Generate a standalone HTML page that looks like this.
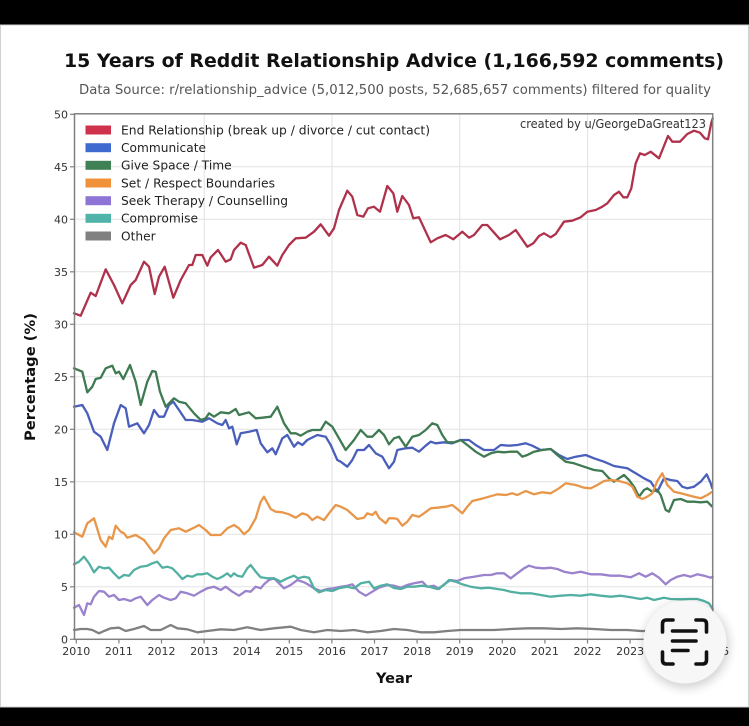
<!DOCTYPE html>
<html>
<head>
<meta charset="utf-8">
<style>
  html, body { margin:0; padding:0; background:#000; }
  body { width:749px; height:726px; overflow:hidden; }
  svg { display:block; }
  text { font-family: "DejaVu Sans", "Liberation Sans", sans-serif; }
</style>
</head>
<body>
<svg width="749" height="726" viewBox="0 0 749 726" xmlns="http://www.w3.org/2000/svg">
  <defs>
    <filter id="sh" x="-50%" y="-50%" width="200%" height="200%">
      <feGaussianBlur stdDeviation="5"/>
    </filter>
  </defs>
  <!-- background -->
  <rect x="0" y="0" width="749" height="726" fill="#000"/>
  <rect x="0.5" y="25" width="748" height="682" fill="#fff" stroke="#d0d0d0" stroke-width="1"/>

  <!-- Title -->
  <text x="64" y="67" font-size="19" font-weight="bold" fill="#111" textLength="660" lengthAdjust="spacingAndGlyphs">15 Years of Reddit Relationship Advice (1,166,592 comments)</text>
  <text x="79" y="94" font-size="13" fill="#555" textLength="632" lengthAdjust="spacingAndGlyphs">Data Source: r/relationship_advice (5,012,500 posts, 52,685,657 comments) filtered for quality</text>

  <!-- gridlines -->
  <g stroke="#e2e2e2" stroke-width="1">
    <line x1="74.5" x2="712.7" y1="166.8" y2="166.8"/>
    <line x1="74.5" x2="712.7" y1="219.3" y2="219.3"/>
    <line x1="74.5" x2="712.7" y1="271.8" y2="271.8"/>
    <line x1="74.5" x2="712.7" y1="324.3" y2="324.3"/>
    <line x1="74.5" x2="712.7" y1="376.8" y2="376.8"/>
    <line x1="74.5" x2="712.7" y1="429.3" y2="429.3"/>
    <line x1="74.5" x2="712.7" y1="481.8" y2="481.8"/>
    <line x1="74.5" x2="712.7" y1="534.3" y2="534.3"/>
    <line x1="74.5" x2="712.7" y1="586.8" y2="586.8"/>
    <line x1="204.2" x2="204.2" y1="114" y2="639.3"/>
    <line x1="332" x2="332" y1="114" y2="639.3"/>
    <line x1="459.8" x2="459.8" y1="114" y2="639.3"/>
    <line x1="587.6" x2="587.6" y1="114" y2="639.3"/>
  </g>

  <!-- series -->
  <g fill="none" stroke-width="2.3" stroke-linejoin="round" stroke-linecap="round">
    <polyline stroke="#b0314b" points="74,313.3 80.7,315.7 90.7,292.7 95.7,296 105.7,269.3 114,285 122.3,303.3 130.7,285 135.7,280 144,261.7 149,266.7 154.7,294 159,276.7 164.7,266.7 173.3,297.7 180.7,280 189,265 192.3,265 195.7,255 202.3,255 207.3,265.7 210.7,257.3 218,250 225.7,261.7 230.7,259.3 234,250 240.7,242.7 245.7,245 254,267.7 262.3,265 269,256.7 277.3,265.7 282.3,255 289,245 295.7,238.3 305.7,237.7 314,231.7 320.7,224.3 329,235.7 334,228.3 339,210 347.3,190.7 352.3,196.7 357.3,215 363.3,216.7 368,208.3 374,206.7 380,211.7 387.3,186 393.3,193.3 397.3,211.7 402.3,196 409,205 413.3,218.3 419,217.3 430.7,242.3 437.3,238.3 445.7,235 453.3,239.3 462.3,231.7 469,237.7 474,235 482.3,225 487.3,225 500,239.3 509,235 515.7,230 527.3,246.7 533.3,243.3 539,236 544,233.3 550.7,237.3 555.7,234 564,221.7 572.3,220.7 580.7,217.3 587.3,211.7 595.7,210 602.3,206.7 607.3,203.3 614,195 619,191.7 623.3,197.3 627.3,197.3 631.3,188.3 635.7,163.3 640,153.3 644.7,155 650.7,151.7 659,158.3 668,136 672.3,141.7 680,141.7 687.3,134 694,130.7 700,132.7 704.7,138.3 708,139.3 711.3,123 712.7,118.5"/>
    <polyline stroke="#4a5fbb" points="74,406.7 82.3,405 87.3,413.3 94,431.7 100.7,436.7 107.3,450 114,423.3 120.7,405 125.7,408.3 129,426.7 137.3,423.3 144,433.3 149,425 154,410 159,416.7 164,416.7 169,405 173.3,401.7 179,410 185.7,420 192.3,420 202.3,421.7 209,418.3 217.3,423.3 222.3,425 225.7,420 229,428.3 232.3,426.7 236.7,444.3 240.7,433.3 249,431.7 256.7,430 260.7,443.3 267.3,452.3 272.3,448.3 275.7,454.3 282.3,438.3 287.3,435 294,446.7 298,442.3 302.3,445 307.3,440 317.3,435 325.7,436.7 330.7,445 337.3,460 340.7,461.7 347.3,466.7 352.3,460 357.3,450 364,450 369,445 375.7,453.3 382.3,456.7 389,468.3 394,461.7 397.3,450 405.7,448.3 412.3,447.7 419,451.7 425.7,445.7 430.7,441.7 435.7,443.3 444,442.3 452.3,443.3 460.7,440 469,440 475.7,445 484,450 494,450 500.7,445 509,445.7 517.3,445 525.7,443.3 532.3,445.7 540.7,450 550.7,449 559,455 567.3,459 575.7,456.7 585.7,455 594,458.3 604,461.7 614,466 627.3,468.3 635.7,473.3 644,478.3 650.7,481.7 657.3,491.7 664,478.3 670.7,480 677.3,481 682.3,486.7 687.3,488.3 694,486.7 700.7,481.7 706.7,474.3 710.7,483.3 712.3,488.3"/>
    <polyline stroke="#3f7a52" points="74,368.3 82.3,371.7 87.3,392.3 92.3,386.7 95.7,379 100.7,377.7 105.7,368.3 112.3,365.7 115.7,373.3 119,371.7 123.3,379 130,365 135.7,381.7 140.7,405 147.3,381.7 152.3,371 155.7,371.7 160,391.7 165.7,406.7 174,398.3 179,401.7 185.7,403.3 194,413.3 200.7,420 205.7,418.3 209,413.3 214,416.7 220.7,412.3 229,413.3 235.7,409 239,415 249,412.3 255.7,418.3 262.3,417.7 270.7,416.7 277.3,406.7 284,423.3 290.7,433.3 295.7,433.3 300.7,435.7 307.3,431.7 312.3,430 320.7,430 325.7,421.7 332.3,426.7 339,438.3 345.7,450 354,440 360.7,430 367.3,436.7 372.3,436.7 379,430 384,435 389,444.3 394,438.3 399,436.7 405.7,446.7 412.3,436.7 419,435 425.7,430 432.3,423.3 437.3,425 442.3,435 447.3,442.3 454,442.3 460.7,440 467.3,445 475.7,451.7 484,456.7 490.7,453.3 497.3,451.7 504,452.3 510.7,451.7 517.3,451.7 522.3,456.7 527.3,455 534,451.7 542.3,450 550.7,449 557.3,455 565.7,461.7 574,463.3 584,466.7 594,470 602.3,471 609,478.3 614,481.7 619,478.3 624,475 629,480 634,486.7 639,496.7 644,490 647.3,488.3 652.3,491.7 657.3,490 660.7,495 665.7,510 669,511.7 674,500 680.7,499 687.3,501.7 694,501.7 700.7,502.3 707.3,501.7 712.3,506.7"/>
    <polyline stroke="#e8974a" points="74,532.3 82.3,536.7 87.3,523.3 94,518.3 100.7,540 105.7,546.7 109,536.7 112.3,539 115.7,525.7 120.7,531.7 124,533.3 127.3,537.7 135.7,535 144,540 149,546.7 154,553.3 159,548.3 164,538.3 170.7,530 179,528.3 185.7,531.7 194,527.7 199,525 205.7,530 210.7,535 220.7,535 227.3,528.3 234,525 239,528.3 244,534.3 249,530 255.7,518.3 260.7,501.7 264,496.7 270.7,509 275.7,511.7 282.3,512.3 289,514.3 295.7,517.7 302.3,513.3 307.3,515 312.3,520 317.3,516.7 324,520 329,513.3 335.7,505 340.7,506.7 347.3,510 357.3,519 364,517.7 367.3,513.3 372.3,515 375.7,511.7 379,517.7 385.7,523.3 389,518.3 394,518.3 397.3,519 402.3,525.7 407.3,521.7 412.3,515 419,516.7 424,513.3 430.7,508.3 437.3,507.7 445.7,506.7 452.3,505 457.3,509 462.3,513.3 467.3,506.7 472.3,501 480.7,499 489,496.7 497.3,494.3 505.7,495 512.3,493.3 517.3,495 525.7,491 534,494.3 542.3,492.3 550.7,493.3 559,488.3 565.7,483.3 575.7,485 584,487.7 590.7,488.3 597.3,485 604,481 610.7,480 619,481 627.3,483.3 632.3,486.7 637.3,496.7 642.3,499 647.3,496.7 652.3,493.3 657.3,481 662.3,473.3 667.3,485 674,491.7 680.7,493.3 687.3,495 694,496.7 700.7,498.3 707.3,495 712.3,491.7"/>
    <polyline stroke="#9a82cc" points="74,607.7 79,605 84,615 87.3,603.3 90.7,604.3 94,596.7 99,591 104,591.7 109,596.7 114,595 119,600 124,599 130.7,601 135.7,598.3 140.7,596.7 147.3,605 152.3,600 159,595 164,597.7 170.7,600 175.7,598.3 180.7,591.7 187.3,593.3 194,595.7 200.7,591.7 207.3,588.3 214,586.7 220.7,590 225.7,586.7 232.3,591.7 239,595.7 245.7,591 250.7,591.7 255.7,586.7 260.7,588.3 264,584.3 269,580 274,578.3 279,583.3 284,588.3 290.7,585 297.3,580 304,582.3 309,585 314,588.3 320.7,591 327.3,589 334,588.3 340.7,586.7 347.3,585.7 352.3,584.3 359,591.7 365.7,595.7 372.3,591.7 379,587.7 387.3,585 394,585.7 400.7,587.7 407.3,585 414,583.3 422.3,581.7 427.3,586.7 434,585.7 439,589 444,584.3 450.7,580 457.3,581 464,578.3 474,576.7 484,575 490.7,575 497.3,573.3 504,573.3 510.7,578.3 517.3,573.3 524,568.3 529,565.7 535.7,567.7 544,568.3 550.7,567.7 557.3,569 564,571.7 572.3,573.3 580.7,571.7 590.7,574.3 600.7,574.3 610.7,575.7 620.7,575.7 630.7,577.3 639,573.3 645.7,576.7 652.3,573.3 659,577.7 665.7,584.3 670.7,580 677.3,576.7 684,575 690.7,576.7 697.3,574.3 704,575.7 710.7,577.7 712.7,576.7"/>
    <polyline stroke="#52b0a2" points="74,564.3 79,561.7 84,556.7 89,563.3 94,572.3 99,566.7 104,568.3 109,567.7 114,573.3 119,578.3 124,575 129,575.7 134,570 140.7,566.7 147.3,565.7 152.3,563.3 157.3,561.7 162.3,567.7 167.3,566.7 172.3,568.3 177.3,573.3 182.3,579 187.3,575.7 192.3,576.7 197.3,574.3 202.3,574.3 207.3,573.3 212.3,576.7 217.3,579 222.3,576.7 227.3,573.3 230.7,576.7 234,573.3 237.3,575.7 242.3,576.7 247.3,568.3 250.7,565 255.7,571.7 260.7,577.3 267.3,578.3 274,578.3 280.7,581.7 287.3,578.3 294,575.7 298,578.3 304,576.7 309,577.7 314,588.3 319,592.3 325.7,590 332.3,591 339,588.3 347.3,586.7 354,588.3 360.7,583.3 369,581.7 374,588.3 380.7,585.7 387.3,584.3 394,588 400.7,589 407.3,586.7 414,586.7 422.3,585.7 429,586.7 437.3,589 444,585 449,580 455.7,581.7 462.3,584.3 470.7,586.7 480.7,588.3 489,587.7 497.3,589 504,590 510.7,591.7 520.7,593.3 530.7,593.3 540.7,595 550.7,596.7 560.7,595.7 570.7,595 580.7,595.7 590.7,594.3 600.7,595.7 610.7,596.7 620.7,595.7 630.7,597.3 640.7,599 647.3,597.7 654,600 664,597.7 670.7,599 680.7,599.3 690.7,599 697.3,599 704,601 709,603.3 712.7,609"/>
    <polyline stroke="#808080" points="74,630 80.7,629 87.3,629 92.3,630 99,633.3 104,631 110.7,628.3 119,627.7 125.7,631 134,629 144,626 150.7,630 160.7,630 170.7,625 177.3,628.3 187.3,629.3 197.3,632.3 207.3,631 220.7,629.3 234,630 247.3,627.3 260.7,630 274,628.3 290.7,626.7 300.7,630 314,632.3 327.3,630 340.7,631 354,630 367.3,632.3 380.7,631 394,629 407.3,630 420.7,632.3 434,632.3 447.3,631 460.7,630 477.3,630 494,630 510.7,629 527.3,628.3 544,628.3 560.7,629 577.3,628.3 594,629 610.7,630 627.3,630 640.7,631 660,631 690,632 712.7,631"/>
  </g>

  <!-- frame -->
  <rect x="74.5" y="113.8" width="638.2" height="525.5" fill="none" stroke="#808080" stroke-width="1.5"/>

  <!-- y ticks -->
  <g stroke="#808080" stroke-width="1.2">
    <line x1="70" x2="74.5" y1="639.3" y2="639.3"/>
    <line x1="70" x2="74.5" y1="586.8" y2="586.8"/>
    <line x1="70" x2="74.5" y1="534.3" y2="534.3"/>
    <line x1="70" x2="74.5" y1="481.8" y2="481.8"/>
    <line x1="70" x2="74.5" y1="429.3" y2="429.3"/>
    <line x1="70" x2="74.5" y1="376.8" y2="376.8"/>
    <line x1="70" x2="74.5" y1="324.3" y2="324.3"/>
    <line x1="70" x2="74.5" y1="271.8" y2="271.8"/>
    <line x1="70" x2="74.5" y1="219.3" y2="219.3"/>
    <line x1="70" x2="74.5" y1="166.8" y2="166.8"/>
    <line x1="70" x2="74.5" y1="114.3" y2="114.3"/>
  </g>
  <g font-size="11" fill="#333" text-anchor="end">
    <text x="68" y="643.3">0</text>
    <text x="68" y="590.8">5</text>
    <text x="68" y="538.3">10</text>
    <text x="68" y="485.8">15</text>
    <text x="68" y="433.3">20</text>
    <text x="68" y="380.8">25</text>
    <text x="68" y="328.3">30</text>
    <text x="68" y="275.8">35</text>
    <text x="68" y="223.3">40</text>
    <text x="68" y="170.8">45</text>
    <text x="68" y="118.3">50</text>
  </g>

  <!-- x ticks -->
  <g stroke="#808080" stroke-width="1.2">
    <line x1="76.3" x2="76.3" y1="639.3" y2="643.5"/>
    <line x1="118.9" x2="118.9" y1="639.3" y2="643.5"/>
    <line x1="161.5" x2="161.5" y1="639.3" y2="643.5"/>
    <line x1="204.1" x2="204.1" y1="639.3" y2="643.5"/>
    <line x1="246.7" x2="246.7" y1="639.3" y2="643.5"/>
    <line x1="289.3" x2="289.3" y1="639.3" y2="643.5"/>
    <line x1="331.9" x2="331.9" y1="639.3" y2="643.5"/>
    <line x1="374.5" x2="374.5" y1="639.3" y2="643.5"/>
    <line x1="417.1" x2="417.1" y1="639.3" y2="643.5"/>
    <line x1="459.7" x2="459.7" y1="639.3" y2="643.5"/>
    <line x1="502.3" x2="502.3" y1="639.3" y2="643.5"/>
    <line x1="544.9" x2="544.9" y1="639.3" y2="643.5"/>
    <line x1="587.5" x2="587.5" y1="639.3" y2="643.5"/>
    <line x1="630.1" x2="630.1" y1="639.3" y2="643.5"/>
    <line x1="672.7" x2="672.7" y1="639.3" y2="643.5"/>
  </g>
  <g font-size="11" fill="#333" text-anchor="middle">
    <text x="76.3" y="655">2010</text>
    <text x="118.9" y="655">2011</text>
    <text x="161.5" y="655">2012</text>
    <text x="204.1" y="655">2013</text>
    <text x="246.7" y="655">2014</text>
    <text x="289.3" y="655">2015</text>
    <text x="331.9" y="655">2016</text>
    <text x="374.5" y="655">2017</text>
    <text x="417.1" y="655">2018</text>
    <text x="459.7" y="655">2019</text>
    <text x="502.3" y="655">2020</text>
    <text x="544.9" y="655">2021</text>
    <text x="587.5" y="655">2022</text>
    <text x="630.1" y="655">2023</text>
    <text x="672.7" y="655">2024</text>
    <text x="715.3" y="655">2025</text>
  </g>

  <!-- axis labels -->
  <text x="376" y="683" font-size="14.5" font-weight="bold" fill="#111" textLength="36" lengthAdjust="spacingAndGlyphs">Year</text>
  <text transform="translate(35,441) rotate(-90)" x="0" y="0" font-size="14.5" font-weight="bold" fill="#111" textLength="128" lengthAdjust="spacingAndGlyphs">Percentage (%)</text>

  <!-- credit -->
  <text x="520" y="128" font-size="12" fill="#333" textLength="186" lengthAdjust="spacingAndGlyphs">created by u/GeorgeDaGreat123</text>

  <!-- legend -->
  <g>
    <rect x="85.5" y="125.5" width="25.5" height="9" fill="#cf334b"/>
    <rect x="85.5" y="143.2" width="25.5" height="9" fill="#3f6bd0"/>
    <rect x="85.5" y="160.8" width="25.5" height="9" fill="#3f8055"/>
    <rect x="85.5" y="178.5" width="25.5" height="9" fill="#f0923a"/>
    <rect x="85.5" y="196.2" width="25.5" height="9" fill="#8e74d4"/>
    <rect x="85.5" y="213.8" width="25.5" height="9" fill="#4fb3aa"/>
    <rect x="85.5" y="231.5" width="25.5" height="9" fill="#808080"/>
  </g>
  <g font-size="12" fill="#222">
    <text x="121" y="134.3" textLength="309" lengthAdjust="spacingAndGlyphs">End Relationship (break up / divorce / cut contact)</text>
    <text x="121" y="152" textLength="85" lengthAdjust="spacingAndGlyphs">Communicate</text>
    <text x="121" y="169.6" textLength="110.7" lengthAdjust="spacingAndGlyphs">Give Space / Time</text>
    <text x="121" y="187.3" textLength="154" lengthAdjust="spacingAndGlyphs">Set / Respect Boundaries</text>
    <text x="121" y="205" textLength="167" lengthAdjust="spacingAndGlyphs">Seek Therapy / Counselling</text>
    <text x="121" y="222.6" textLength="77" lengthAdjust="spacingAndGlyphs">Compromise</text>
    <text x="121" y="240.3" textLength="34.7" lengthAdjust="spacingAndGlyphs">Other</text>
  </g>

  <!-- floating icon -->
  <circle cx="686" cy="645" r="43" fill="#000" opacity="0.18" filter="url(#sh)"/>
  <circle cx="685" cy="642" r="41.5" fill="#f7f7f7"/>
  <g fill="none" stroke="#111" stroke-width="3.6" stroke-linecap="round" stroke-linejoin="round">
    <path d="M662.5,632 L662.5,624 Q662.5,620 666.5,620 L673,620"/>
    <path d="M706.5,632 L706.5,624 Q706.5,620 702.5,620 L696,620"/>
    <path d="M662.5,652 L662.5,660 Q662.5,664 666.5,664 L673,664"/>
    <path d="M706.5,652 L706.5,660 Q706.5,664 702.5,664 L696,664"/>
    <line x1="672.5" x2="696" y1="631" y2="631"/>
    <line x1="672.5" x2="696" y1="641" y2="641"/>
    <line x1="672.5" x2="688" y1="650.5" y2="650.5"/>
  </g>
</svg>
</body>
</html>
